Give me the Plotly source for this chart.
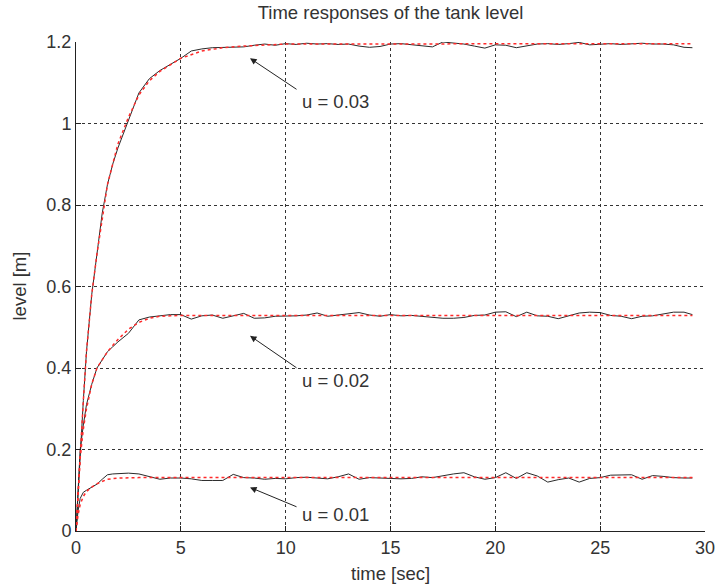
import plotly.graph_objects as go

# ---------------- data ----------------
t_meas = [0, 0.1, 0.2, 0.35, 0.5, 0.75, 1, 1.25, 1.5, 1.75, 2, 2.5, 3, 3.5, 4, 4.5,
          5, 5.5, 6, 6.5, 7, 7.5, 8, 8.5, 9, 9.5, 10, 10.5, 11, 11.5, 12, 12.5, 13, 13.5,
          14, 14.5, 15, 15.5, 16, 16.5, 17, 17.5, 18, 18.5, 19, 19.5, 20, 20.5, 21, 21.5,
          22, 22.5, 23, 23.5, 24, 24.5, 25, 25.5, 26, 26.5, 27, 27.5, 28, 28.5, 29, 29.4]

level_u003 = [0, 0.10, 0.20, 0.32, 0.44, 0.58, 0.68, 0.78, 0.85, 0.90, 0.94, 1.01, 1.075, 1.11, 1.13, 1.145,
              1.160, 1.178, 1.183, 1.186, 1.187, 1.187, 1.188, 1.192, 1.195, 1.192, 1.196, 1.194, 1.197, 1.195,
              1.196, 1.194, 1.195, 1.190, 1.187, 1.189, 1.195, 1.196, 1.193, 1.190, 1.188, 1.200, 1.197, 1.195,
              1.190, 1.185, 1.193, 1.192, 1.186, 1.190, 1.195, 1.196, 1.194, 1.196, 1.199, 1.193, 1.195, 1.196,
              1.194, 1.196, 1.197, 1.195, 1.195, 1.193, 1.187, 1.186]

level_u002 = [0, 0.12, 0.20, 0.26, 0.31, 0.36, 0.40, 0.42, 0.44, 0.452, 0.464, 0.485, 0.518, 0.525, 0.528, 0.531,
              0.531, 0.520, 0.528, 0.530, 0.522, 0.528, 0.534, 0.522, 0.523, 0.527, 0.527, 0.528, 0.530, 0.535,
              0.527, 0.530, 0.533, 0.536, 0.530, 0.527, 0.531, 0.528, 0.529, 0.527, 0.525, 0.522, 0.522, 0.524,
              0.529, 0.530, 0.537, 0.538, 0.526, 0.537, 0.528, 0.527, 0.521, 0.528, 0.535, 0.537, 0.536, 0.529,
              0.527, 0.521, 0.527, 0.528, 0.532, 0.537, 0.537, 0.531]

level_u001 = [0, 0.05, 0.08, 0.095, 0.100, 0.108, 0.115, 0.127, 0.138, 0.140, 0.141, 0.142, 0.140, 0.133, 0.127, 0.130,
              0.130, 0.128, 0.124, 0.124, 0.124, 0.139, 0.131, 0.130, 0.127, 0.129, 0.128, 0.131, 0.132, 0.130,
              0.128, 0.133, 0.140, 0.127, 0.131, 0.130, 0.129, 0.128, 0.129, 0.133, 0.131, 0.136, 0.140, 0.143,
              0.133, 0.127, 0.131, 0.143, 0.129, 0.143, 0.135, 0.120, 0.126, 0.130, 0.120, 0.129, 0.131, 0.137,
              0.137, 0.138, 0.127, 0.136, 0.134, 0.131, 0.130, 0.130]

t_model = [0, 0.1, 0.2, 0.35, 0.5, 0.75, 1, 1.5, 2, 2.5, 3, 3.5, 4, 4.5, 5, 6, 7, 8, 9, 10, 29.4]
model_u003 = [0, 0.10, 0.20, 0.32, 0.44, 0.58, 0.68, 0.85, 0.95, 1.015, 1.07, 1.105, 1.128, 1.145, 1.16,
              1.178, 1.186, 1.19, 1.193, 1.195, 1.196]
model_u002 = [0, 0.10, 0.18, 0.25, 0.30, 0.36, 0.40, 0.44, 0.47, 0.495, 0.512, 0.522, 0.527, 0.528, 0.529,
              0.529, 0.529, 0.529, 0.529, 0.529, 0.529]
model_u001 = [0, 0.04, 0.065, 0.085, 0.097, 0.108, 0.116, 0.127, 0.130, 0.131, 0.131, 0.131, 0.131, 0.131, 0.131,
              0.131, 0.131, 0.131, 0.131, 0.131, 0.131]

labels = ["u = 0.03", "u = 0.02", "u = 0.01"]
arrow_heads = [(8.3, 1.16), (8.3, 0.479), (8.3, 0.107)]
label_pos = [(12.4, 1.055), (12.4, 0.369), (12.4, 0.041)]

x_ticks = [0, 5, 10, 15, 20, 25, 30]
y_ticks = [0, 0.2, 0.4, 0.6, 0.8, 1, 1.2]
y_ticklabels = ["0", "0.2", "0.4", "0.6", "0.8", "1", "1.2"]

# ---------------- figure ----------------
W, H = 716, 584
L, R, T, B = 76, 11, 42, 53

fig = go.Figure()
for y in [level_u003, level_u002, level_u001]:
    fig.add_trace(go.Scatter(x=t_meas, y=y, mode="lines",
                             line=dict(color="#2a2a2a", width=1), showlegend=False))
for y in [model_u003, model_u002, model_u001]:
    fig.add_trace(go.Scatter(x=t_model, y=y, mode="lines",
                             line=dict(color="#ff2a2a", width=1.5, dash="dot"), showlegend=False))

font_main = "Liberation Sans, Arial, sans-serif"
tc = "#333333"
fs = 18.5

plot_w = W - L - R
plot_h = H - T - B

annotations = []
for lab, (hx, hy), (lx, ly), ay in zip(labels, arrow_heads, label_pos, [32, 33, 20]):
    annotations.append(dict(x=hx, y=hy, xref="x", yref="y", text="", showarrow=True,
                            ax=48, ay=ay, axref="pixel", ayref="pixel",
                            arrowhead=2, arrowsize=1.3, arrowwidth=1, arrowcolor="#222222"))
    annotations.append(dict(x=lx, y=ly, xref="x", yref="y", text=lab, showarrow=False,
                            font=dict(size=fs, color=tc, family=font_main)))

annotations.append(dict(x=0.5, y=-(573 - 531) / plot_h, xref="paper", yref="paper",
                        text="time [sec]", showarrow=False, yanchor="middle",
                        font=dict(size=fs, color=tc, family=font_main)))
annotations.append(dict(x=-(76 - 19) / plot_w, y=0.5, xref="paper", yref="paper",
                        text="level [m]", showarrow=False, textangle=-90, xanchor="center",
                        font=dict(size=fs, color=tc, family=font_main)))

axis_common = dict(showline=True, linecolor="#222222", linewidth=1, mirror=False,
                   ticks="inside", ticklen=5, tickcolor="#222222",
                   showgrid=True, gridcolor="#333333", gridwidth=1, griddash="3px,3px",
                   zeroline=False, tickfont=dict(size=18, color=tc, family=font_main))

fig.update_layout(
    width=W, height=H,
    margin=dict(l=L, r=R, t=T, b=B, autoexpand=False),
    paper_bgcolor="white", plot_bgcolor="white",
    title=dict(text="Time responses of the tank level", x=0.5, xref="paper",
               y=1 - 13 / H, yref="container", yanchor="middle",
               font=dict(size=fs, color=tc, family=font_main)),
    xaxis=dict(range=[0, 30], tickvals=x_ticks, **axis_common),
    yaxis=dict(range=[0, 1.2], tickvals=y_ticks, ticktext=y_ticklabels, **axis_common),
    annotations=annotations,
)

# remove the browser's default 8px body margin so the figure fills the window exactly
fig.write_html("out.html",
               config={"displayModeBar": False},
               post_script="document.body.style.margin='0';document.body.style.overflow='hidden';")
